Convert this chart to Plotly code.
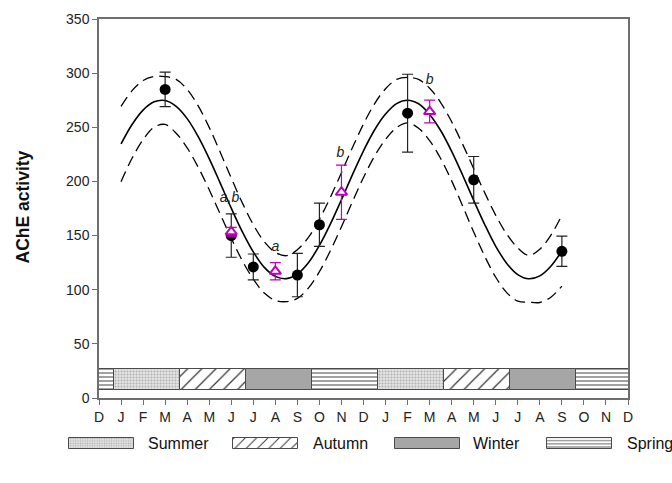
import plotly.graph_objects as go

# ---------------- data ----------------
month_pos = list(range(25))
month_labels = ["D", "J", "F", "M", "A", "M", "J", "J", "A", "S", "O", "N", "D",
                "J", "F", "M", "A", "M", "J", "J", "A", "S", "O", "N", "D"]
y_ticks = [0, 50, 100, 150, 200, 250, 300, 350]

# black circles (mean +/- error)
obs_x = [3, 6, 7, 9, 10, 14, 17, 21]
obs_y = [285, 150, 121, 113.5, 160, 263, 201.5, 135.5]
obs_err = [16, 20, 12, 20, 20, 36, 21.5, 14]

# magenta triangles (mean +/- error)
tri_x = [6, 8, 11, 15]
tri_y = [153.5, 117, 190, 264.5]
tri_err = [4, 8, 25, 10.5]

# letters above triangles
lbl_x = [5.92, 8.0, 10.95, 15.0]
lbl_y = [184, 139, 226, 293]
lbl_text = ["a,b", "a", "b", "b"]

# fitted curve and its confidence band
fit_x = [1.0, 1.5, 2.0, 2.5, 3.0, 3.5, 4.0, 4.5, 5.0, 5.5, 6.0, 6.5, 7.0, 7.5,
         8.0, 8.5, 9.0, 9.5, 10.0, 10.5, 11.0, 11.5, 12.0, 12.5, 13.0, 13.5,
         14.0, 14.5, 15.0, 15.5, 16.0, 16.5, 17.0, 17.5, 18.0, 18.5, 19.0,
         19.5, 20.0, 20.5, 21.0]
fit_mid = [234.6, 252.6, 265.9, 273.5, 274.7, 269.4, 258.0, 241.4, 221.1, 198.4,
           175.3, 153.6, 134.9, 120.6, 112.3, 110.2, 114.5, 124.9, 140.9, 160.8,
           183.1, 206.3, 228.3, 247.5, 262.2, 271.9, 275.0, 271.7, 261.9, 247.0,
           227.8, 205.7, 182.5, 160.2, 140.1, 124.3, 114.0, 110.1, 112.8, 121.7,
           136.0]
fit_upper = [269.4, 283.8, 293.2, 296.9, 296.8, 294.3, 285.0, 269.7, 249.9, 227.0,
             203.1, 180.3, 160.1, 144.3, 134.5, 131.4, 137.0, 148.3, 165.1, 185.5,
             208.1, 231.3, 253.0, 271.7, 285.6, 294.2, 296.0, 294.2, 286.1, 272.8,
             255.1, 234.2, 211.8, 189.5, 168.7, 151.3, 138.6, 131.7, 137.4, 150.3,
             168.7]
fit_lower = [199.8, 221.4, 238.6, 250.1, 252.6, 244.5, 231.0, 213.1, 192.3, 169.8,
             147.5, 126.9, 109.7, 96.9, 90.1, 89.0, 92.0, 101.5, 116.7, 136.1,
             158.1, 181.3, 203.6, 223.3, 238.8, 249.6, 254.0, 249.2, 237.7, 221.2,
             200.5, 177.2, 153.2, 130.9, 111.5, 97.3, 89.4, 88.5, 88.2, 93.1,
             103.3]

# seasons strip
season_start = [-2.34, 0.66, 3.66, 6.66, 9.66, 12.66, 15.66, 18.66, 21.66]
season_name = ["Spring", "Summer", "Autumn", "Winter", "Spring",
               "Summer", "Autumn", "Winter", "Spring"]
season_len = 3
legend_order = ["Summer", "Autumn", "Winter", "Spring"]

# ---------------- styles ----------------
FONT = "Arial, Liberation Sans, sans-serif"
AXIS_COL = "#6e6e6e"
MAG = "#c000c0"
STYLE = {
    "Summer": dict(shape=".", bg="#e4e4e4", fg="#b0b0b0", size=3, sol=0.35),
    "Autumn": dict(shape="/", bg="#ffffff", fg="#333333", size=10, sol=0.12),
    "Winter": dict(shape="", bg="#a6a6a6", fg="#a6a6a6", size=8, sol=0.3),
    "Spring": dict(shape="-", bg="#ffffff", fg="#444444", size=4, sol=0.25),
}
BAND_LO, BAND_HI = 7, 26.5

W, H = 672, 483
X0, X1 = 99, 628      # plot area in px
Y0, Y1 = 19, 398


def pattern(name, scale=1.0):
    st = STYLE[name]
    if not st["shape"]:
        return dict(shape="")
    return dict(shape=st["shape"], bgcolor=st["bg"], fgcolor=st["fg"],
                size=st["size"] * scale, solidity=st["sol"], fillmode="replace")


fig = go.Figure()

# season strip: one trace per season kind
for nm in legend_order:
    xs = [s + season_len / 2 for s, n in zip(season_start, season_name) if n == nm]
    fig.add_trace(go.Bar(
        x=xs, y=[BAND_HI - BAND_LO] * len(xs), base=BAND_LO, width=season_len,
        marker=dict(color=STYLE[nm]["bg"], line=dict(color="#4a4a4a", width=1),
                    pattern=pattern(nm)),
        name=nm, showlegend=False, hoverinfo="skip",
    ))

# fitted curve and band
fig.add_trace(go.Scatter(x=fit_x, y=fit_upper, mode="lines",
                         line=dict(color="black", width=1.3, dash="11px,6px", shape="spline"),
                         showlegend=False))
fig.add_trace(go.Scatter(x=fit_x, y=fit_lower, mode="lines",
                         line=dict(color="black", width=1.3, dash="11px,6px", shape="spline"),
                         showlegend=False))
fig.add_trace(go.Scatter(x=fit_x, y=fit_mid, mode="lines",
                         line=dict(color="black", width=1.6, shape="spline"),
                         showlegend=False))

# black circles
fig.add_trace(go.Scatter(
    x=obs_x, y=obs_y, mode="markers",
    marker=dict(color="black", size=11, symbol="circle"),
    error_y=dict(type="data", array=obs_err, color="#222222", thickness=1.2, width=5.5),
    showlegend=False,
))

# magenta triangles
fig.add_trace(go.Scatter(
    x=tri_x, y=tri_y, mode="markers",
    marker=dict(color="white", size=10, symbol="triangle-up",
                line=dict(color=MAG, width=2)),
    error_y=dict(type="data", array=tri_err, color=MAG, thickness=1.2, width=5.5),
    showlegend=False,
))

# letters
fig.add_trace(go.Scatter(
    x=lbl_x, y=lbl_y, mode="text",
    text=["<i>%s</i>" % t for t in lbl_text],
    textfont=dict(family=FONT, size=14, color="#222222"),
    showlegend=False, hoverinfo="skip",
))

# custom legend (swatches on a hidden pixel-scaled axis)
leg_center = [101.5, 265.5, 427, 579.5]
leg_text_x = [146, 311, 471, 625]
for cx, nm in zip(leg_center, legend_order):
    fig.add_trace(go.Bar(
        x=[cx], y=[11], base=34, width=65, xaxis="x2", yaxis="y2",
        marker=dict(color=STYLE[nm]["bg"], line=dict(color="#4a4a4a", width=1),
                    pattern=pattern(nm, 0.8)),
        showlegend=False, hoverinfo="skip",
    ))

annotations = [
    dict(x=tx, y=39.5, xref="x2", yref="y2", text=n, showarrow=False,
         xanchor="left", yanchor="middle",
         font=dict(family=FONT, size=16, color="#111111"))
    for tx, n in zip(leg_text_x, legend_order)
]
annotations.append(dict(
    x=23 / W, y=1 - 207.5 / H, xref="paper", yref="paper",
    text="<b>AChE activity</b>", textangle=-90, showarrow=False,
    xanchor="center", yanchor="middle",
    font=dict(family=FONT, size=17.5, color="#111111"),
))

axis_common = dict(showgrid=False, zeroline=False, showline=True, linecolor=AXIS_COL,
                   linewidth=1.5, mirror=True, ticks="outside", ticklen=5,
                   tickcolor=AXIS_COL, tickwidth=1.2, automargin=False,
                   tickfont=dict(family=FONT, size=14, color="#222222"))

fig.update_layout(
    width=W, height=H,
    margin=dict(l=0, r=0, t=0, b=0, pad=0),
    paper_bgcolor="white", plot_bgcolor="white",
    showlegend=False,
    barmode="overlay",
    xaxis=dict(domain=[X0 / W, X1 / W], range=[0, 24], tickvals=month_pos,
               ticktext=month_labels, **axis_common),
    yaxis=dict(domain=[1 - Y1 / H, 1 - Y0 / H], range=[0, 350], tickvals=y_ticks,
               **axis_common),
    xaxis2=dict(domain=[0, 1], range=[0, W], visible=False, fixedrange=True,
                anchor="y2"),
    yaxis2=dict(domain=[0, 60 / H], range=[0, 60], visible=False, fixedrange=True,
                anchor="x2"),
    annotations=annotations,
    bargap=0,
)

fig.write_html("out.html",
               config={"displayModeBar": False},
               post_script="document.body.style.margin='0';document.body.style.padding='0';")
